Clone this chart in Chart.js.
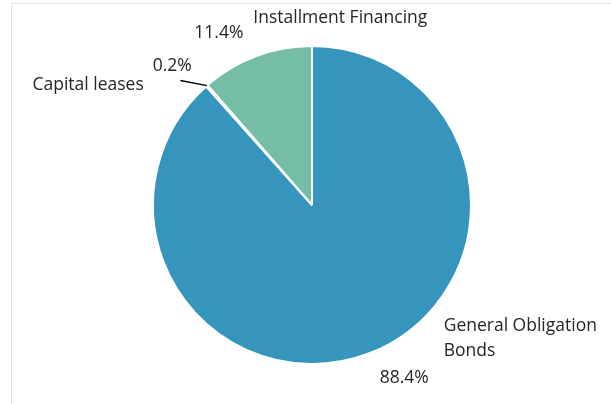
<!DOCTYPE html>
<html>
<head>
<meta charset="utf-8">
<script src="https://cdn.jsdelivr.net/npm/chart.js@4"></script>
<style>
  html, body { margin: 0; padding: 0; background: #fff; }
  #wrap { width: 611px; height: 404px; position: relative; }
</style>
</head>
<body>
<div id="wrap"><canvas id="debt" width="611" height="404"></canvas></div>
<script>
const categories = ['General Obligation Bonds', 'Capital leases', 'Installment Financing'];
const shares = [88.4, 0.2, 11.4];
const percentLabels = ['88.4%', '0.2%', '11.4%'];
const sliceColors = ['rgb(53, 149, 188)', 'rgb(90, 90, 90)', 'rgb(118, 189, 168)'];

// label placement, in units of the pie radius from its centre
const labelSpots = [
    {name: ['General Obligation', 'Bonds'], nx: 0.828, ny: 0.764, align: 'left', px: 0.58, py: 1.089},
    {name: ['Capital leases'], nx: -1.408, ny: -0.752, align: 'center', px: -0.879, py: -0.873, leader: [-0.828, -0.783]},
    {name: ['Installment Financing'], nx: 0.178, ny: -1.178, align: 'center', px: -0.586, py: -1.083}
];

const frame = {
    id: 'frame',
    beforeDraw(chart) {
        const c = chart.ctx;
        c.save();
        c.strokeStyle = '#e2e2e2';
        c.lineWidth = 1;
        c.beginPath();
        c.moveTo(11.5, chart.height);
        c.lineTo(11.5, 3.5);
        c.lineTo(chart.width, 3.5);
        c.stroke();
        c.restore();
    }
};

const pieLabels = {
    id: 'pieLabels',
    afterDraw(chart) {
        const c = chart.ctx;
        const arcs = chart.getDatasetMeta(0).data;
        const cx = arcs[0].x, cy = arcs[0].y, r = arcs[0].outerRadius;
        c.save();
        c.fillStyle = '#262626';
        c.font = '17.5px "Open Sans"';
        c.textBaseline = 'middle';
        labelSpots.forEach((s, i) => {
            c.textAlign = s.align;
            s.name.forEach((line, k) => {
                c.fillText(line, cx + s.nx * r, cy + s.ny * r + k * 25);
            });
            c.textAlign = 'center';
            c.fillText(percentLabels[i], cx + s.px * r, cy + s.py * r);
            if (s.leader) {
                const a = arcs[i];
                const mid = (a.startAngle + a.endAngle) / 2;
                c.strokeStyle = '#000';
                c.lineWidth = 1.3;
                c.beginPath();
                c.moveTo(cx + s.leader[0] * r, cy + s.leader[1] * r);
                c.lineTo(cx + Math.cos(mid) * r, cy + Math.sin(mid) * r);
                c.stroke();
            }
        });
        c.restore();
    }
};

new Chart(document.getElementById('debt'), {
    type: 'pie',
    data: {
        labels: categories,
        datasets: [{
            data: shares,
            backgroundColor: sliceColors,
            borderColor: '#fff',
            borderWidth: 2
        }]
    },
    options: {
        responsive: false,
        animation: false,
        layout: {padding: {left: 100, right: 87, top: 45, bottom: 39}},
        plugins: {
            legend: {display: false},
            tooltip: {enabled: false}
        }
    },
    plugins: [frame, pieLabels]
});
</script>
</body>
</html>
